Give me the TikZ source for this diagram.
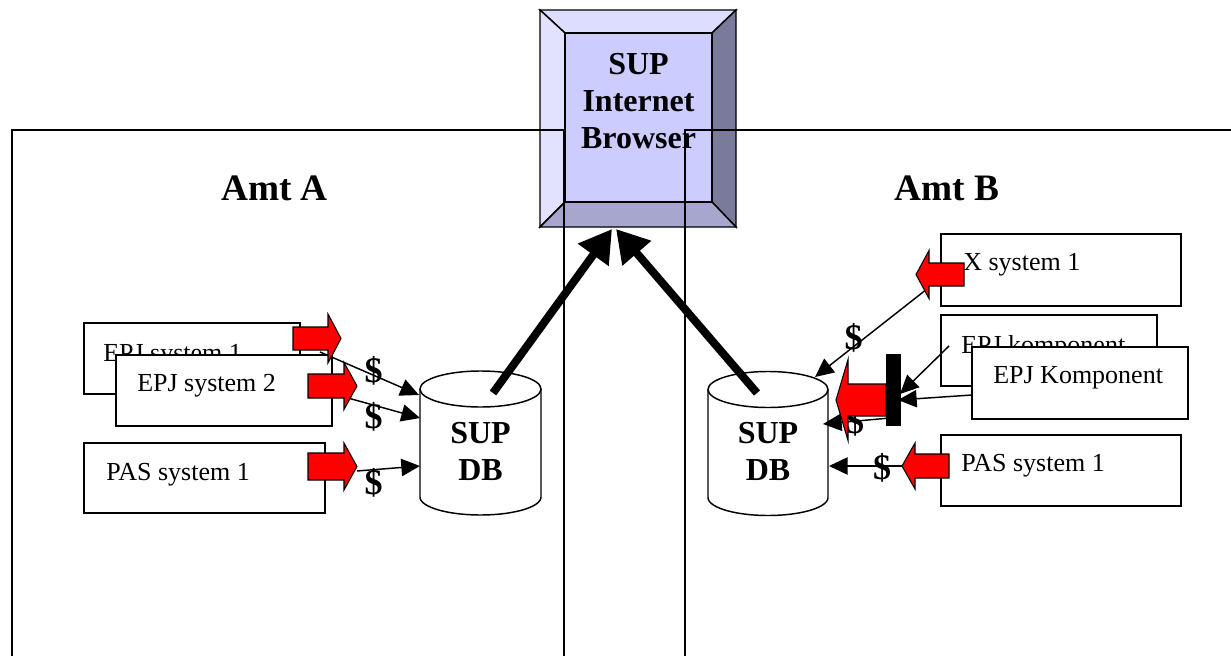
\documentclass[tikz,border=0pt]{standalone}
\usepackage{fontspec}
\setmainfont{Liberation Serif}
\usetikzlibrary{arrows.meta}
\definecolor{bvface}{RGB}{204,204,255}
\definecolor{bvtop}{RGB}{221,221,255}
\definecolor{bvleft}{RGB}{226,226,255}
\definecolor{bvright}{RGB}{122,122,155}
\definecolor{bvbottom}{RGB}{166,166,206}
\newcommand\blockarrow[6]{%
  \filldraw[redarr] ({#1},{#4-#5}) -- ({#2},{#4-#5}) -- ({#2},{#4-#6}) -- ({#3},{#4})
     -- ({#2},{#4+#6}) -- ({#2},{#4+#5}) -- ({#1},{#4+#5}) -- cycle;}
\newcommand\dbcyl[5]{% cx, rx, ytop, ybottom-center, ry
  \draw[fill=white, line width=1.1pt] ({#1-#2},{#3}) -- ({#1-#2},{#4})
     -- plot[domain=180:360, samples=60] ({#1+#2*cos(\x)},{#4-#5*sin(\x)}) -- ({#1+#2},{#3});
  \draw[fill=white, line width=1.1pt] (#1,#3) ellipse [x radius=#2, y radius=#5];}
\begin{document}
\begin{tikzpicture}[x=0.75pt,y=-0.75pt,
  sysbox/.style={draw, fill=white, line width=1.1pt, rectangle, inner sep=0pt, outer sep=0pt, anchor=north west},
  systext/.style={anchor=base west, inner sep=0pt, font=\fontsize{19.5}{23}\selectfont},
  boldtext/.style={anchor=base, inner sep=0pt, font=\fontsize{24}{28}\selectfont\bfseries},
  amttext/.style={anchor=base, inner sep=0pt, font=\fontsize{28}{32}\selectfont\bfseries},
  dollar/.style={inner sep=0pt, font=\fontsize{27}{30}\selectfont\bfseries},
  thinarr/.style={line width=1.1pt, -{Triangle[length=14pt,width=13pt]}},
  redarr/.style={fill=red, draw=black, line width=0.8pt, line join=miter},
  thickarr/.style={line width=6pt, -{Triangle[length=24pt,width=27pt]}},
  frame/.style={line width=1.1pt}
]
\useasboundingbox (0,0) rectangle (1231,656);

% ---- browser (bevelled box)
\filldraw[fill=bvtop, line width=1.1pt] (540,10) -- (736,10) -- (712,33) -- (565,33) -- cycle;
\filldraw[fill=bvleft, line width=1.1pt] (540,10) -- (565,33) -- (565,202) -- (540,227) -- cycle;
\filldraw[fill=bvright, line width=1.1pt] (736,10) -- (736,227) -- (712,202) -- (712,33) -- cycle;
\filldraw[fill=bvbottom, line width=1.1pt] (540,227) -- (736,227) -- (712,202) -- (565,202) -- cycle;
\filldraw[fill=bvface, line width=1.1pt] (565,33) rectangle (712,202);
\node[boldtext] (bsup) at (638.5,75) {SUP};
\node[boldtext] (binet) at (638.5,112) {Internet};
\node[boldtext] (bbrow) at (638.5,149) {Browser};

% ---- the two offices
\draw[frame] (564,656) -- (564,130) -- (12,130) -- (12,656);
\draw[frame] (685,656) -- (685,130) -- (1231,130);
\node[amttext] (amta) at (274.5,200) {Amt A};
\node[amttext] (amtb) at (947,200) {Amt B};

% ---- databases
\dbcyl{480.5}{60.5}{389}{497}{18}
\node[boldtext] (dbLa) at (480.5,443) {SUP};
\node[boldtext] (dbLb) at (480.5,480) {DB};
\dbcyl{768}{60}{389.5}{497.5}{18}
\node[boldtext] (dbRa) at (768,443) {SUP};
\node[boldtext] (dbRb) at (768,480) {DB};

% ---- left systems
\node[sysbox, minimum width=216*0.75pt, minimum height=71*0.75pt] (epj1) at (84,323) {};
\node[systext] (epj1t) at (103,361) {EPJ system 1};
\node[sysbox, minimum width=216*0.75pt, minimum height=71*0.75pt] (epj2) at (116,355) {};
\node[systext] (epj2t) at (137,391) {EPJ system 2};
\node[sysbox, minimum width=241*0.75pt, minimum height=70*0.75pt] (pasl) at (84,443) {};
\node[systext] (paslt) at (106,480) {PAS system 1};

\coordinate (l1s) at (320,352); \coordinate (l1e) at (419,395);
\coordinate (l2s) at (348,398); \coordinate (l2e) at (420,418);
\coordinate (l3s) at (357,471); \coordinate (l3e) at (420,466);
\draw[thinarr] (l1s) -- (l1e);
\draw[thinarr] (l2s) -- (l2e);
\draw[thinarr] (l3s) -- (l3e);
\node[dollar] (d1) at (373.5,370.5) {\$};
\node[dollar] (d2) at (373.5,417) {\$};
\node[dollar] (d3) at (373.5,483) {\$};

\blockarrow{293}{328}{341}{338.5}{11.5}{24.5}
\blockarrow{308}{344}{357}{386}{12}{23.5}
\blockarrow{308}{344}{357}{466.5}{13.5}{23.5}

% ---- right systems
\node[sysbox, minimum width=240*0.75pt, minimum height=72*0.75pt] (xsys) at (941,234) {};
\node[systext] (xsyst) at (963,270) {X system 1};
\node[sysbox, minimum width=216*0.75pt, minimum height=71*0.75pt] (epjk1) at (941,315) {};
\node[systext] (epjk1t) at (961,353) {EPJ komponent};
\node[sysbox, minimum width=216*0.75pt, minimum height=72*0.75pt] (epjk2) at (972,347) {};
\node[systext] (epjk2t) at (993,383) {EPJ Komponent};
\node[sysbox, minimum width=240*0.75pt, minimum height=71*0.75pt] (pasr) at (941,435) {};
\node[systext] (pasrt) at (961,471) {PAS system 1};

\coordinate (r1s) at (927,289); \coordinate (r1e) at (815,377);
\coordinate (r2s) at (890,418); \coordinate (r2e) at (823,424);
\coordinate (r3s) at (903,466); \coordinate (r3e) at (829,466);
\draw[thinarr] (r1s) -- (r1e);
\draw[thinarr] (r2s) -- (r2e);
\draw[thinarr] (r3s) -- (r3e);
\node[dollar] (d4) at (853.5,338) {\$};
\node[dollar] (d5) at (855,422) {\$};
\node[dollar] (d6) at (882,468) {\$};

\blockarrow{964}{929}{916}{274.5}{11.5}{24}
\blockarrow{949}{915}{902}{466}{12}{23}
\blockarrow{886}{848}{836}{400}{16}{40.5}
\fill[black] (886,354) rectangle (901,426);

\coordinate (k1s) at (949,346); \coordinate (k1e) at (900,394);
\coordinate (k2s) at (972,395); \coordinate (k2e) at (898,400);
\draw[thinarr] (k1s) -- (k1e);
\draw[thinarr] (k2s) -- (k2e);

% ---- thick arrows to browser
\coordinate (tl0) at (493,393); \coordinate (tl1) at (612,229);
\coordinate (tr0) at (757,393); \coordinate (tr1) at (616,229);
\draw[thickarr] (tl0) -- (tl1);
\draw[thickarr] (tr0) -- (tr1);
\end{tikzpicture}
\end{document}
